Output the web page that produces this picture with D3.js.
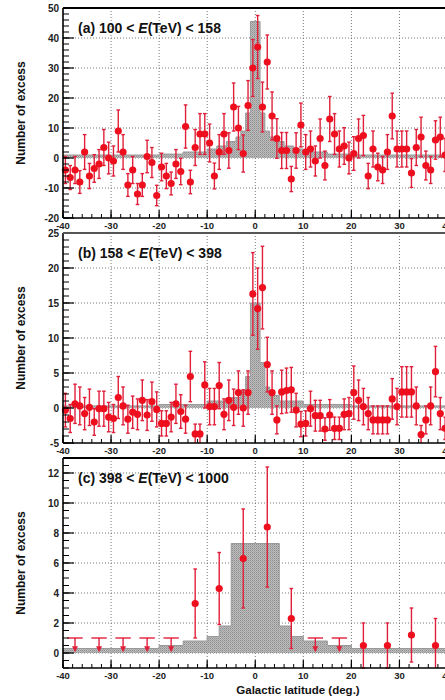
<!DOCTYPE html>
<html><head><meta charset="utf-8">
<script src="https://cdn.jsdelivr.net/npm/d3@7"></script>
<style>body{margin:0;background:#fff;overflow:hidden} svg{display:block;font-family:"Liberation Sans",Arial,Helvetica,sans-serif;}</style>
</head><body><svg id="c" width="445" height="700"></svg>
<script>
// ---------- DATA ----------
const latCenters = [-39.5,-38.5,-37.5,-36.5,-35.5,-34.5,-33.5,-32.5,-31.5,-30.5,-29.5,-28.5,-27.5,-26.5,-25.5,-24.5,-23.5,-22.5,-21.5,-20.5,-19.5,-18.5,-17.5,-16.5,-15.5,-14.5,-13.5,-12.5,-11.5,-10.5,-9.5,-8.5,-7.5,-6.5,-5.5,-4.5,-3.5,-2.5,-1.5,-0.5,0.5,1.5,2.5,3.5,4.5,5.5,6.5,7.5,8.5,9.5,10.5,11.5,12.5,13.5,14.5,15.5,16.5,17.5,18.5,19.5,20.5,21.5,22.5,23.5,24.5,25.5,26.5,27.5,28.5,29.5,30.5,31.5,32.5,33.5,34.5,35.5,36.5,37.5,38.5,39.5];

const valA = [-4,-6.5,-4,-8,2,-6,-3.5,-2,3.5,0,-1,9,2,-9,-4,-12,-9,0.5,-1.5,-12.5,-3,-6,-8.5,-2,-4.5,10.5,-8,3.5,8,8,5,-6,2,8,2.5,17,10,1.5,17.5,30,37,17,32,14,6.5,2.5,2.5,-7,2.5,11,2,3,-1,6.5,-2.5,13,8,3,4,0,1.5,6.5,7.5,-6,3,-3,-4,2,14,3,3,3,-5,3.5,7,-2.5,-4,6,7,1];
const errA = [4.5,4,4.5,3.8,5.8,4.2,4.6,4.8,6,5.3,5,7,5.8,3.8,4.5,3.5,3.8,5.4,5,3.4,4.6,4.2,3.8,4.8,4.4,7.2,3.9,6,6.8,6.8,6.3,4.3,5.8,6.8,5.9,8,7.2,6.2,8.3,9.5,10.5,8.3,9,8,6.6,6,6,4.2,5.9,7.3,5.8,6,5,6.5,4.8,7.5,6.8,6,6.1,5.3,5.6,6.5,6.7,4.2,6,4.6,4.5,5.8,7.6,6,6,6,4.8,6,6.6,4.8,4.5,6.4,6.6,5.5];
const histEdgesA = [-40,-20,-15,-10,-8,-6,-4,-3,-2,-1,0,1,2,3,4,6,8,10,15,20,40];
const histValsA  = [1,1.3,2,3,4,5.5,7,9,15,45.5,45.5,15,9,7,5.5,4,3,2,1.3,1];

const valB = [-0.3,-1.5,0.6,0.3,-0.8,0.1,-2,-0.1,-0.1,-1.3,-1.5,1.5,0.3,-1.6,-0.6,-0.9,1.1,-1,0.9,-0.2,-2.2,-2.2,-1.3,0.6,-0.5,-1.6,4.5,-3.7,-3.7,3.3,0.2,0.2,3.2,-0.9,1.1,0.1,2.2,0,2.2,16.3,14.2,17.2,6.2,2.2,-1.7,2.3,2.5,2.6,-0.3,-2.3,-2.2,-0.1,-1.1,-1.1,-3,-1,-2.9,-2.9,-0.9,-0.8,2.2,1.1,0.2,-0.8,-1.7,-1.7,-1.7,-1.7,1.3,0.2,2.3,2.3,2.3,0.3,-3.8,-1.7,0.3,5.2,-0.8,-2.9];
const errB = [2.4,2,2.8,2.7,2.3,2.6,1.9,2.5,2.5,2.1,2,3,2.7,2,2.3,2.2,2.9,2.2,2.8,2.5,1.8,1.8,2.1,2.8,2.4,2,3.6,1.4,1.4,3.3,2.6,2.6,3.3,2.2,2.9,2.6,3.1,2.6,3.1,5.9,5.8,5.9,3.9,3.1,2,3.1,3.2,3.2,2.4,1.8,1.8,2.5,2.2,2.2,1.6,2.2,1.6,1.6,2.2,2.3,3.8,2.9,2.6,2.3,2,2,2,2,2.9,2.6,3.6,3.6,3.6,2.7,1.3,2,2.7,3.6,2.3,1.6];
const histEdgesB = [-40,-20,-10,-5,-3,-2,-1,0,1,2,3,5,10,20,40];
const histValsB  = [0.3,0.5,1,1.5,2.5,4.5,15,15,6.5,3,1.8,1,0.5,0.3];

const latCentersC = [-37.5,-32.5,-27.5,-22.5,-17.5,-12.5,-7.5,-2.5,2.5,7.5,12.5,17.5,22.5,27.5,32.5,37.5];
const valC = [null,null,null,null,null,3.3,4.3,6.3,8.4,2.3,null,null,0.5,0.5,1.2,0.5];
const errC = [0,0,0,0,0,2.3,2.4,3.3,4,2,0,0,1.5,1.5,1.8,1.8];
const ulC  = [1,1,1,1,1,null,null,null,null,null,1,1,null,null,null,null];
const histEdgesC = [-40,-20,-15,-10,-7.5,-5,0,5,7.5,10,15,20,40];
const histValsC  = [0.3,0.5,0.8,1.1,1.8,7.3,7.3,1.8,1.1,0.8,0.5,0.3];

const xTicks = [-40,-30,-20,-10,0,10,20,30,40];
const panels = [
  {label:"(a)", lo:"100", hi:"158", top:8, bottom:218, dom:[-20,50], major:10, minor:2, yTicks:[-20,-10,0,10,20,30,40,50], frameTop:"#000"},
  {label:"(b)", lo:"158", hi:"398", top:233, bottom:443, dom:[-5,25], major:5, minor:1, yTicks:[-5,0,5,10,15,20,25], frameTop:"#555"},
  {label:"(c)", lo:"398", hi:"1000", top:458, bottom:668, dom:[-1,13], major:2, minor:0.5, yTicks:[0,2,4,6,8,10,12], frameTop:"#000"}
];
const series = [
  {x:latCenters, v:valA, e:errA, he:histEdgesA, hv:histValsA},
  {x:latCenters, v:valB, e:errB, he:histEdgesB, hv:histValsB},
  {x:latCentersC, v:valC, e:errC, he:histEdgesC, hv:histValsC, ul:ulC}
];

// ---------- DRAW ----------
const svg = d3.select("#c");
const defs = svg.append("defs");
const pat = defs.append("pattern").attr("id","stip").attr("patternUnits","userSpaceOnUse").attr("width",2).attr("height",2);
pat.append("rect").attr("width",2).attr("height",2).attr("fill","#bdbdbd");
pat.append("rect").attr("width",1).attr("height",1).attr("fill","#8e8e8e");
pat.append("rect").attr("x",1).attr("y",1).attr("width",1).attr("height",1).attr("fill","#a4a4a4");

const X0 = 63, X1 = 447.5;
const x = d3.scaleLinear().domain([-40,40]).range([X0,X1]);
const RED = "#ee0f1e", BAR = "#e0203a";

panels.forEach((p,i)=>{
  const s = series[i];
  const y = d3.scaleLinear().domain(p.dom).range([p.bottom,p.top]);
  const g = svg.append("g");
  // grid
  const gx = xTicks.filter(t=>t>-40 && t<40);
  g.selectAll(".gv").data(gx).join("line")
    .attr("x1",d=>x(d)).attr("x2",d=>x(d)).attr("y1",p.top).attr("y2",p.bottom)
    .attr("stroke","#777").attr("stroke-width",1).attr("stroke-dasharray","1,2");
  g.selectAll(".gh").data(p.yTicks.filter(t=>t>p.dom[0] && t<p.dom[1])).join("line")
    .attr("x1",X0).attr("x2",X1).attr("y1",d=>y(d)).attr("y2",d=>y(d))
    .attr("stroke","#777").attr("stroke-width",1).attr("stroke-dasharray","1,2");
  // histogram
  const pts = [];
  s.hv.forEach((v,k)=>{ pts.push([s.he[k],v]); pts.push([s.he[k+1],v]); });
  const area = d3.area().x(d=>x(d[0])).y0(y(0)).y1(d=>y(d[1]));
  const line = d3.line().x(d=>x(d[0])).y(d=>y(d[1]));
  const closed = [[s.he[0],0],...pts,[s.he[s.he.length-1],0]];
  g.append("path").attr("d",area(pts)).attr("fill","url(#stip)");
  g.append("path").attr("d",line(closed)).attr("fill","none").attr("stroke","#999").attr("stroke-width",1);
  // error bars
  const data = s.x.map((xx,k)=>({x:xx,v:s.v[k],e:s.e[k],ul:s.ul?s.ul[k]:null}));
  const pd = data.filter(d=>d.v!==null);
  const cap = 1.8;
  const eb = g.append("g").attr("stroke",BAR).attr("stroke-width",1.4);
  pd.forEach(d=>{
    const cx = x(d.x), yt = Math.max(y(d.v+d.e),p.top), yb = Math.min(y(d.v-d.e),p.bottom);
    eb.append("line").attr("x1",cx).attr("x2",cx).attr("y1",yt).attr("y2",yb);
    if (y(d.v+d.e)>=p.top) eb.append("line").attr("x1",cx-cap).attr("x2",cx+cap).attr("y1",yt).attr("y2",yt);
    if (y(d.v-d.e)<=p.bottom) eb.append("line").attr("x1",cx-cap).attr("x2",cx+cap).attr("y1",yb).attr("y2",yb);
  });
  g.selectAll(".pt").data(pd).join("circle")
    .attr("cx",d=>x(d.x)).attr("cy",d=>y(d.v)).attr("r",3.6).attr("fill",RED);
  // upper limits
  const ul = data.filter(d=>d.ul!==null && d.ul!==undefined);
  ul.forEach(d=>{
    const cx = x(d.x), yt = y(d.ul), yb = y(0.05);
    g.append("line").attr("x1",x(d.x-1.6)).attr("x2",x(d.x+1.6)).attr("y1",yt).attr("y2",yt).attr("stroke",BAR).attr("stroke-width",1.4);
    g.append("line").attr("x1",cx).attr("x2",cx).attr("y1",yt).attr("y2",yb-4).attr("stroke",BAR).attr("stroke-width",1.4);
    g.append("path").attr("d",`M${cx-3},${yb-6}L${cx+3},${yb-6}L${cx},${yb}Z`).attr("fill",BAR);
  });
  // y axis ticks
  const minorT = d3.range(p.dom[0], p.dom[1]+1e-9, p.minor);
  g.selectAll(".ymt").data(minorT).join("line")
    .attr("x1",X0).attr("x2",X0+6).attr("y1",d=>y(d)).attr("y2",d=>y(d)).attr("stroke","#000").attr("stroke-width",1);
  g.selectAll(".yMt").data(p.yTicks).join("line")
    .attr("x1",X0).attr("x2",X0+11).attr("y1",d=>y(d)).attr("y2",d=>y(d)).attr("stroke","#000").attr("stroke-width",1.2);
  g.selectAll(".yl").data(p.yTicks).join("text")
    .attr("x",X0-4).attr("y",d=>y(d)+3.5).attr("text-anchor","end")
    .attr("font-size",10).attr("font-weight","bold").attr("fill","#222").text(d=>d);
  // x axis ticks
  const xmin = d3.range(-40,40.01,2);
  g.selectAll(".xmt").data(xmin).join("line")
    .attr("x1",d=>x(d)).attr("x2",d=>x(d)).attr("y1",p.bottom).attr("y2",p.bottom-4).attr("stroke","#000").attr("stroke-width",1);
  g.selectAll(".xMt").data(xTicks).join("line")
    .attr("x1",d=>x(d)).attr("x2",d=>x(d)).attr("y1",p.bottom).attr("y2",p.bottom-8).attr("stroke","#000").attr("stroke-width",1.2);
  g.selectAll(".xl").data(xTicks).join("text")
    .attr("x",d=>x(d)).attr("y",p.bottom+11).attr("text-anchor","middle")
    .attr("font-size",9.5).attr("font-weight","bold").attr("fill","#222").text(d=>d);
  // frame
  g.append("line").attr("x1",X0).attr("x2",X0).attr("y1",p.top).attr("y2",p.bottom).attr("stroke","#000").attr("stroke-width",1.6);
  g.append("line").attr("x1",X0).attr("x2",X1).attr("y1",p.bottom).attr("y2",p.bottom).attr("stroke","#000").attr("stroke-width",1.6);
  g.append("line").attr("x1",X0).attr("x2",X1).attr("y1",p.top).attr("y2",p.top).attr("stroke",p.frameTop).attr("stroke-width",2);
  // title
  const t = g.append("text").attr("x",78).attr("y",p.top+25).attr("font-size",14).attr("font-weight","bold").attr("fill","#111");
  t.append("tspan").text(`${p.label} ${p.lo} < `);
  t.append("tspan").attr("font-style","italic").text("E");
  t.append("tspan").text(`(TeV) < ${p.hi}`);
  // y title
  svg.append("text").attr("transform",`translate(21,${(p.top+p.bottom)/2}) rotate(-90)`)
    .attr("dy","0.35em").attr("text-anchor","middle").attr("font-size",12).attr("font-weight","bold").attr("fill","#111").text("Number of excess");
});
svg.append("text").attr("x",298).attr("y",694).attr("text-anchor","middle").attr("font-size",11.5).attr("font-weight","bold").attr("fill","#111").text("Galactic latitude (deg.)");
</script>
</body></html>
